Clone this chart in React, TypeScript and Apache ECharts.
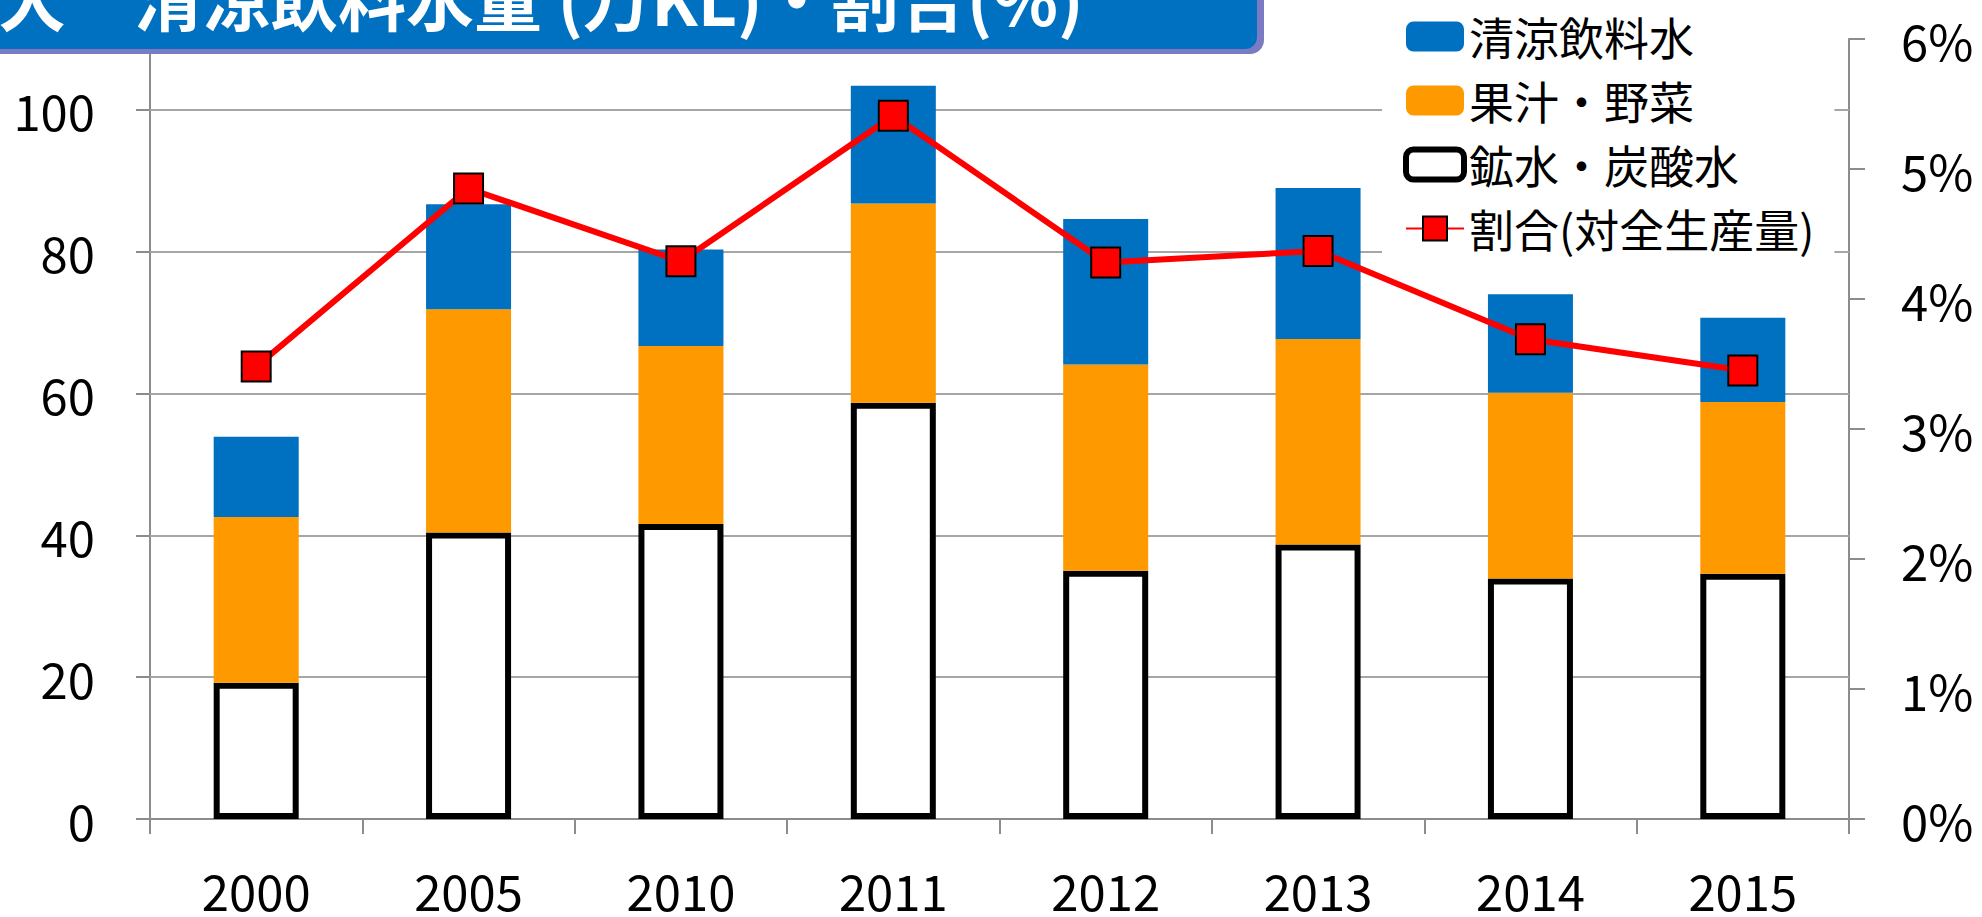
import React, { useEffect, useRef } from "react";
import * as echarts from "echarts";

const years = ["2000", "2005", "2010", "2011", "2012", "2013", "2014", "2015"];
const mineralWater = [19.2, 40.4, 41.6, 58.7, 35.0, 38.7, 33.9, 34.6];
const juiceVeg = [23.4, 31.5, 25.1, 28.1, 29.1, 29.0, 26.2, 24.2];
const softDrink = [11.3, 14.8, 13.6, 16.6, 20.5, 21.3, 13.9, 11.9];
const ratioPct = [3.48, 4.85, 4.29, 5.41, 4.28, 4.37, 3.69, 3.45];
const leftTicks = [0, 20, 40, 60, 80, 100];
const seriesNames = ["清涼飲料水", "果汁・野菜", "鉱水・炭酸水", "割合(対全生産量)"];
const titleText = "大　清涼飲料水量 (万KL)・割合(%)";

const FONT = '"Noto Sans CJK JP", "Noto Sans", sans-serif';
const AXIS_GRAY = "#8c8c8c";
const GRID_GRAY = "#a6a6a6";
const BLUE = "#0070C0";
const ORANGE = "#FF9900";

export default function App() {
  const ref = useRef<HTMLDivElement>(null);
  useEffect(() => {
    document.body.style.margin = "0";
    const chart = echarts.init(ref.current!, null, { renderer: "svg" });
    const option: any = {
      animation: false,
      backgroundColor: "#ffffff",
      textStyle: { fontFamily: FONT },
      grid: { left: 150, right: 133, top: 39, bottom: 98, containLabel: false },
      legend: {
        orient: "vertical",
        left: 1382,
        top: 0,
        padding: [14, 20, 20, 21],
        backgroundColor: "#ffffff",
        itemWidth: 58,
        itemHeight: 30,
        itemGap: 19,
        z: 6,
        data: [
          { name: seriesNames[0], itemStyle: { color: BLUE, borderWidth: 0 } },
          { name: seriesNames[1], itemStyle: { color: ORANGE, borderWidth: 0 } },
          { name: seriesNames[2], itemStyle: { color: "#fff", borderColor: "#000", borderWidth: 6 } },
          { name: seriesNames[3] },
        ],
        textStyle: { fontFamily: FONT, fontSize: 45, lineHeight: 45, color: "#000" },
      },
      xAxis: {
        type: "category",
        data: years,
        boundaryGap: true,
        axisLine: { show: true, lineStyle: { color: AXIS_GRAY, width: 2 } },
        axisTick: { show: true, alignWithLabel: false, interval: 0, length: 15, lineStyle: { color: AXIS_GRAY, width: 2 } },
        axisLabel: { color: "#000", fontFamily: FONT, fontSize: 49, lineHeight: 49, margin: 46, interval: 0 },
        splitLine: { show: false },
      },
      yAxis: [
        {
          type: "value",
          min: 0,
          max: 110,
          interval: 20,
          position: "left",
          axisLine: { show: true, lineStyle: { color: AXIS_GRAY, width: 2 } },
          axisTick: { show: true, length: 14, customValues: leftTicks, lineStyle: { color: AXIS_GRAY, width: 2 } },
          axisLabel: {
            color: "#000",
            fontFamily: FONT,
            fontSize: 49,
            margin: 55,
            customValues: leftTicks,
            formatter: (v: number) => (v > 100 ? "" : String(v)),
          },
          splitLine: { show: false },
        },
        {
          type: "value",
          min: 0,
          max: 6,
          interval: 1,
          position: "right",
          axisLine: { show: true, lineStyle: { color: AXIS_GRAY, width: 2 } },
          axisTick: { show: true, length: 16, lineStyle: { color: AXIS_GRAY, width: 2 } },
          axisLabel: { color: "#000", fontFamily: FONT, fontSize: 49, margin: 52, formatter: "{value}%" },
          splitLine: { show: false },
        },
      ],
      series: [
        {
          name: seriesNames[2],
          type: "bar",
          stack: "total",
          barWidth: 85,
          data: mineralWater,
          itemStyle: { color: "#ffffff", borderColor: "#000000", borderWidth: 6 },
          markLine: {
            silent: true,
            z: 1,
            symbol: ["none", "none"],
            label: { show: false },
            lineStyle: { color: GRID_GRAY, width: 2, type: "solid" },
            emphasis: { disabled: true },
            data: leftTicks.filter((t) => t > 0).map((t) => ({ yAxis: t })),
          },
        },
        {
          name: seriesNames[1],
          type: "bar",
          stack: "total",
          barWidth: 85,
          data: juiceVeg,
          itemStyle: { color: ORANGE, borderColor: ORANGE, borderWidth: 6 },
        },
        {
          name: seriesNames[0],
          type: "bar",
          stack: "total",
          barWidth: 85,
          data: softDrink,
          itemStyle: { color: BLUE, borderColor: BLUE, borderWidth: 6 },
        },
        {
          name: seriesNames[3],
          type: "line",
          yAxisIndex: 1,
          z: 4,
          data: ratioPct,
          symbol: "rect",
          symbolSize: [29, 30],
          lineStyle: { color: "#FF0000", width: 6 },
          itemStyle: { color: "#FF0000", borderColor: "#000000", borderWidth: 2 },
        },
      ],
      graphic: [
        {
          type: "rect",
          z: 100,
          shape: { x: -20, y: -20, width: 1284, height: 74, r: 14 },
          style: { fill: "#7b7bc2" },
        },
        {
          type: "rect",
          z: 101,
          shape: { x: -20, y: -20, width: 1277, height: 69, r: 12 },
          style: { fill: BLUE },
        },
        {
          type: "text",
          z: 102,
          x: -2,
          y: -4,
          style: {
            text: titleText,
            fill: "#ffffff",
            font: `bold 68px ${FONT}`,
            verticalAlign: "middle",
            align: "left",
          },
        },
      ],
    };
    chart.setOption(option);
    return () => chart.dispose();
  }, []);
  return (
    <div
      ref={ref}
      style={{ position: "absolute", left: 0, top: 0, width: 1982, height: 917 }}
    />
  );
}
